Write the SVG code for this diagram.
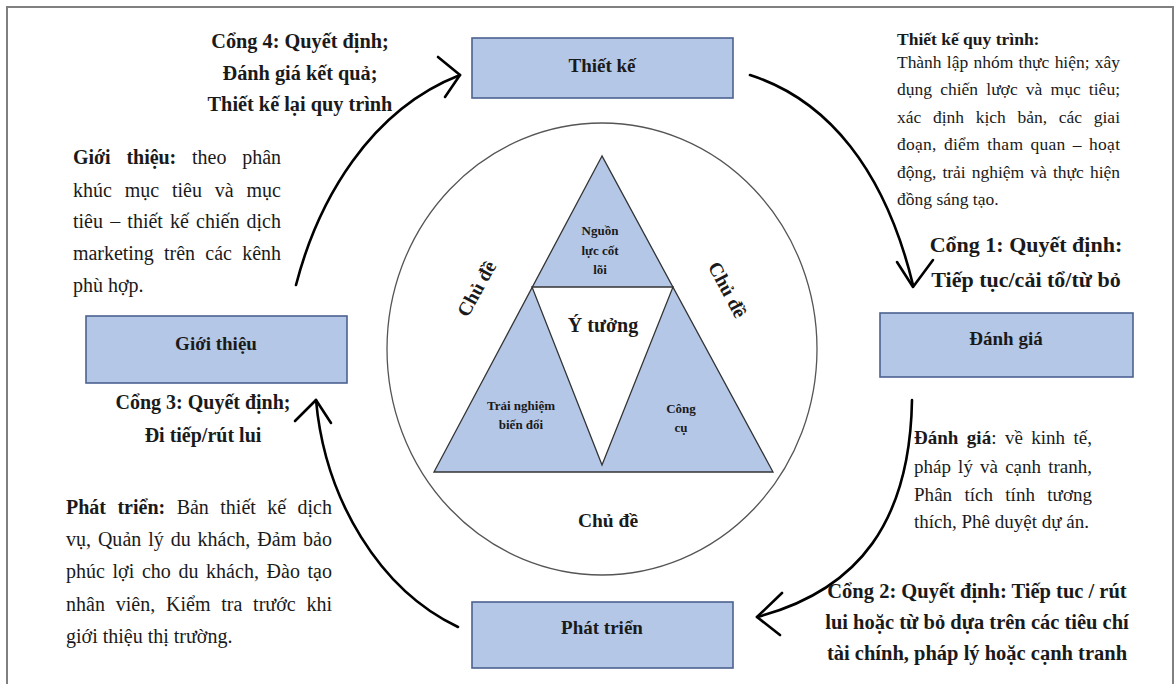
<svg xmlns="http://www.w3.org/2000/svg" width="1175" height="684" viewBox="0 0 1175 684">
<style>
  text { font-family: "Liberation Serif", "Times New Roman", serif; fill: #1a1a1a; }
  .b { font-weight: bold; }
  .box { fill: #B4C7E7; stroke: #4B6290; stroke-width: 1.6; }
  .lbl { font-size: 19px; font-weight: bold; text-anchor: middle; }
  .gate { font-weight: bold; text-anchor: middle; }
  .tri { fill: #B4C7E7; stroke: #333; stroke-width: 1.3; stroke-linejoin: miter; }
  .small { font-size: 13px; font-weight: bold; text-anchor: middle; }
  .p20 { font-size: 20px; }
  .p19 { font-size: 19px; }
  .p17 { font-size: 17.5px; }
  .arrow { fill: none; stroke: #000; stroke-width: 2.6; stroke-linecap: round; stroke-linejoin: round; }
</style>
<rect x="0" y="0" width="1175" height="684" fill="#fff"/>
<rect x="7" y="7" width="1166" height="700" fill="#fff" stroke="#808080" stroke-width="2"/>

<!-- central circle with triangles -->
<g id="core">
  <ellipse cx="602" cy="349" rx="215" ry="226" fill="none" stroke="#555" stroke-width="1.3"/>
  <polygon class="tri" points="602,156 434,472 773,472"/>
  <polygon points="532,287 673,287 602,465" fill="#fff" stroke="#333" stroke-width="1.3"/>
  <text class="small" x="600" y="235">Nguồn</text>
  <text class="small" x="600" y="255">lực cốt</text>
  <text class="small" x="600" y="274">lõi</text>
  <text class="b" x="603" y="332" font-size="20" text-anchor="middle">Ý tưởng</text>
  <text class="small" x="521" y="410">Trải nghiệm</text>
  <text class="small" x="521" y="429">biến đổi</text>
  <text class="small" x="681" y="413">Công</text>
  <text class="small" x="681" y="432">cụ</text>
  <text class="b" x="608" y="527" font-size="19.5" text-anchor="middle">Chủ đề</text>
  <text class="b" font-size="19.5" text-anchor="middle" transform="translate(477,289) rotate(-61)" x="0" y="6">Chủ đề</text>
  <text class="b" font-size="19.5" text-anchor="middle" transform="translate(727,290) rotate(62)" x="0" y="6">Chủ đề</text>
</g>

<g id="node-thietke">
  <rect class="box" x="472" y="38" width="261" height="60"/>
  <text class="lbl" x="602" y="72">Thiết kế</text>
</g>
<g id="node-danhgia">
  <rect class="box" x="880" y="313" width="253" height="64"/>
  <text class="lbl" x="1006" y="345">Đánh giá</text>
</g>
<g id="node-phattrien">
  <rect class="box" x="472" y="602" width="261" height="66"/>
  <text class="lbl" x="602" y="634">Phát triển</text>
</g>
<g id="node-gioithieu">
  <rect class="box" x="86" y="316" width="261" height="67"/>
  <text class="lbl" x="216" y="350">Giới thiệu</text>
</g>

<g id="connectors">
  <path class="arrow" d="M296,285 C318,200 370,110 460,75"/>
  <path class="arrow" d="M438,57 L460,75 L445,97"/>
  <path class="arrow" d="M750,75 C828,100 885,170 913,285"/>
  <path class="arrow" d="M897,262 L913,287 L933,260"/>
  <path class="arrow" d="M912,400 C910,520 860,590 757,617"/>
  <path class="arrow" d="M782,593 L757,617 L780,635"/>
  <path class="arrow" d="M458,627 C380,590 325,500 316,400"/>
  <path class="arrow" d="M295,421 L316,400 L331,423"/>
</g>

<g id="gate4">
  <text class="gate" font-size="20.3" x="300" y="48">Cổng 4: Quyết định;</text>
  <text class="gate" font-size="20.3" x="300" y="80">Đánh giá kết quả;</text>
  <text class="gate" font-size="20.3" x="300" y="111">Thiết kế lại quy trình</text>
</g>
<g id="gate1">
  <text class="gate" font-size="22" x="1026" y="252">Cổng 1: Quyết định:</text>
  <text class="gate" font-size="22" x="1026" y="287">Tiếp tục/cải tổ/từ bỏ</text>
</g>
<g id="gate2">
  <text class="gate" font-size="20.5" x="977" y="598">Cổng 2: Quyết định: Tiếp tuc / rút</text>
  <text class="gate" font-size="20.5" x="977" y="629">lui hoặc từ bỏ dựa trên các tiêu chí</text>
  <text class="gate" font-size="20.5" x="977" y="660">tài chính, pháp lý hoặc cạnh tranh</text>
</g>
<g id="gate3">
  <text class="gate" font-size="20" x="203" y="409">Cổng 3: Quyết định;</text>
  <text class="gate" font-size="20" x="203" y="442">Đi tiếp/rút lui</text>
</g>

<g id="note-gioithieu" class="p20">
  <text x="73" y="164" textLength="208" lengthAdjust="spacing" word-spacing="11"><tspan class="b">Giới thiệu:</tspan> theo phân</text>
  <text x="73" y="197" textLength="208" lengthAdjust="spacing" word-spacing="7.8">khúc mục tiêu và mục</text>
  <text x="73" y="228" textLength="208" lengthAdjust="spacing" word-spacing="2.2">tiêu – thiết kế chiến dịch</text>
  <text x="73" y="260" textLength="208" lengthAdjust="spacing" word-spacing="5.5">marketing trên các kênh</text>
  <text x="73" y="292">phù hợp.</text>
</g>

<g id="note-phattrien" class="p20">
  <text x="66" y="514" textLength="266" lengthAdjust="spacing" word-spacing="6.4"><tspan class="b">Phát triển:</tspan> Bản thiết kế dịch</text>
  <text x="66" y="546" textLength="266" lengthAdjust="spacing" word-spacing="1.9">vụ, Quản lý du khách, Đảm bảo</text>
  <text x="66" y="578" textLength="266" lengthAdjust="spacing" word-spacing="2.6">phúc lợi cho du khách, Đào tạo</text>
  <text x="66" y="611" textLength="266" lengthAdjust="spacing" word-spacing="5.7">nhân viên, Kiểm tra trước khi</text>
  <text x="66" y="643">giới thiệu thị trường.</text>
</g>

<g id="note-thietke" class="p17">
  <text class="b" x="897" y="45">Thiết kế quy trình:</text>
  <text x="897" y="68" textLength="223" lengthAdjust="spacing" word-spacing="1">Thành lập nhóm thực hiện; xây</text>
  <text x="897" y="95" textLength="223" lengthAdjust="spacing" word-spacing="3.8">dụng chiến lược và mục tiêu;</text>
  <text x="897" y="123" textLength="223" lengthAdjust="spacing" word-spacing="7.3">xác định kịch bản, các giai</text>
  <text x="897" y="150" textLength="223" lengthAdjust="spacing" word-spacing="2.6">đoạn, điểm tham quan – hoạt</text>
  <text x="897" y="178" textLength="223" lengthAdjust="spacing" word-spacing="1.8">động, trải nghiệm và thực hiện</text>
  <text x="897" y="205">đồng sáng tạo.</text>
</g>

<g id="note-danhgia" class="p19">
  <text x="914" y="444" textLength="178" lengthAdjust="spacing" word-spacing="3.7"><tspan class="b">Đánh giá</tspan>: về kinh tế,</text>
  <text x="914" y="473" textLength="178" lengthAdjust="spacing" word-spacing="2.4">pháp lý và cạnh tranh,</text>
  <text x="914" y="501" textLength="178" lengthAdjust="spacing" word-spacing="7.5">Phân tích tính tương</text>
  <text x="914" y="528">thích, Phê duyệt dự án.</text>
</g>
</svg>
